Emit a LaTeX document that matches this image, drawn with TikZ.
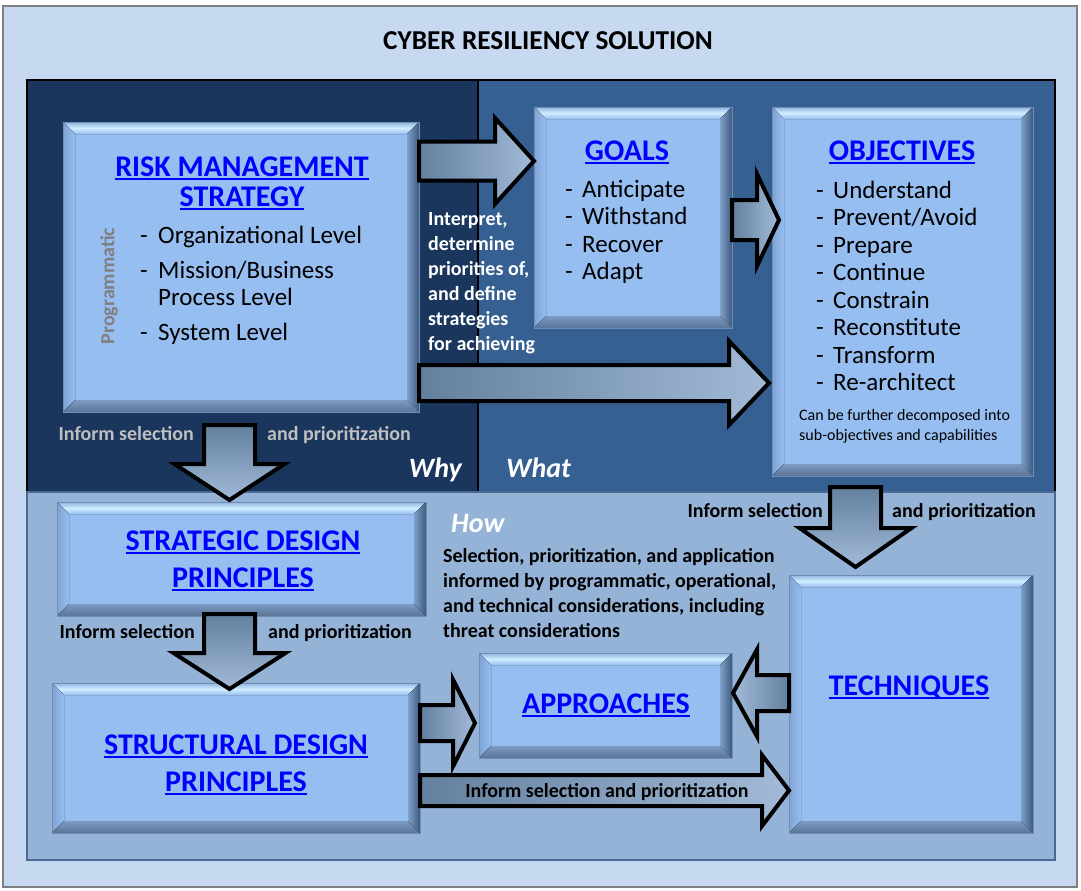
\documentclass[tikz,border=0pt]{standalone}
\usepackage{fontspec}
\setmainfont{Carlito}
\usetikzlibrary{calc}
\definecolor{outerbg}{HTML}{C6D9F1}
\definecolor{outerln}{HTML}{7F7F7F}
\definecolor{whybg}{HTML}{1A365D}
\definecolor{whatbg}{HTML}{366092}
\definecolor{howbg}{HTML}{95B3D7}
\definecolor{howln}{HTML}{4A6A94}
\definecolor{face}{HTML}{97BEF0}
\definecolor{bevTa}{HTML}{8FB3E0}
\definecolor{bevTm}{HTML}{D0EEFF}
\definecolor{bevLa}{HTML}{7FA3D3}
\definecolor{bevRa}{HTML}{7FA0CA}
\definecolor{bevRb}{HTML}{3D5A80}
\definecolor{bevBa}{HTML}{7D9BC3}
\definecolor{bevBb}{HTML}{5B7396}
\definecolor{bevedge}{HTML}{6F8DB5}
\definecolor{ardark}{HTML}{63809F}
\definecolor{arlight}{HTML}{A2BAD8}
\definecolor{ttlblue}{HTML}{0000FF}
\definecolor{lgray}{HTML}{BFBFBF}
\definecolor{pgray}{HTML}{7F7F7F}
\newcommand\fs[1]{\fontsize{#1}{#1}\selectfont}
\newsavebox\ttlbox
\newcommand\ttl[1]{\sbox\ttlbox{#1}\rlap{\rule[-4pt]{\wd\ttlbox}{2pt}}\usebox\ttlbox}
\tikzset{
  bx/.style={rectangle, fill=face, inner sep=0pt, outer sep=0pt, draw=none},
  ttlnode/.style={font=\bfseries\fs{30}, text=ttlblue, anchor=base, inner sep=0pt},
  item/.style={font=\fs{25}, anchor=base west, inner sep=0pt},
  small/.style={font=\bfseries\fs{20}, inner sep=0pt},
  note/.style={font=\fs{16}, anchor=base west, inner sep=0pt},
  side/.style={font=\bfseries\itshape\fs{28}, text=white, inner sep=0pt},
  barrow/.style={draw=black, line width=4pt, line join=miter},
  hshade/.style={left color=ardark, right color=arlight},
  vshade/.style={top color=ardark, bottom color=arlight},
}
\newcommand\bevel[1]{%
  \fill[top color=bevTa, bottom color=face, middle color=bevTm] (#1.north west) -- (#1.north east) -- ($(#1.north east)+(-12,12)$) -- ($(#1.north west)+(12,12)$) -- cycle;
  \fill[left color=bevLa, right color=face] (#1.north west) -- ($(#1.north west)+(12,12)$) -- ($(#1.south west)+(12,-12)$) -- (#1.south west) -- cycle;
  \fill[left color=bevRa, right color=bevRb] (#1.north east) -- ($(#1.north east)+(-12,12)$) -- ($(#1.south east)+(-12,-12)$) -- (#1.south east) -- cycle;
  \fill[top color=bevBa, bottom color=bevBb] (#1.south west) -- ($(#1.south west)+(12,-12)$) -- ($(#1.south east)+(-12,-12)$) -- (#1.south east) -- cycle;
  \draw[bevedge, line width=0.6pt] (#1.north west) rectangle (#1.south east);
}
% horizontal block arrow: start, tip, shaft half, head half, head length (negative = leftward)
\newcommand\harrow[6][]{\path[barrow,hshade,#1] let \p1=(#2),\p2=(#3) in
  (\x1,{\y1+#4pt}) -- ({\x2-(#6pt)},{\y1+#4pt}) -- ({\x2-(#6pt)},{\y1+#5pt}) -- (\x2,\y1) --
  ({\x2-(#6pt)},{\y1-#5pt}) -- ({\x2-(#6pt)},{\y1-#4pt}) -- (\x1,{\y1-#4pt}) -- cycle;}
% downward block arrow
\newcommand\varrow[6][]{\path[barrow,vshade,#1] let \p1=(#2),\p2=(#3) in
  ({\x1-#4pt},\y1) -- ({\x1-#4pt},{\y2+#6pt}) -- ({\x1-#5pt},{\y2+#6pt}) -- (\x1,\y2) --
  ({\x1+#5pt},{\y2+#6pt}) -- ({\x1+#4pt},{\y2+#6pt}) -- ({\x1+#4pt},\y1) -- cycle;}
\begin{document}
\begin{tikzpicture}[x=1pt,y=-1pt]
\useasboundingbox (0,0) rectangle (1081,891);
\fill[white] (0,0) rectangle (1081,891);
% panels
\draw[fill=outerbg, draw=outerln, line width=1.5pt] (3,6) rectangle (1077,887);
\draw[fill=whybg, draw=black, line width=1.5pt] (27,80) rectangle (478,492);
\draw[fill=whatbg, draw=black, line width=1.5pt] (478,80) rectangle (1055,492);
\draw[fill=howbg, draw=howln, line width=1.5pt] (27,492) rectangle (1055,860);
\node[font=\bfseries\fs{27.3}, anchor=base, inner sep=0pt] (title) at (548,50) {CYBER RESILIENCY SOLUTION};
% boxes
\node[bx, minimum width=356pt, minimum height=290pt] (rms) at (241,267) {};
\node[bx, minimum width=198pt, minimum height=221pt] (goals) at (633,217.5) {};
\node[bx, minimum width=261pt, minimum height=369pt] (obj) at (902.5,291.5) {};
\node[bx, minimum width=369pt, minimum height=114pt] (strat) at (241.5,559) {};
\node[bx, minimum width=368pt, minimum height=150pt] (struct) at (236,758) {};
\node[bx, minimum width=253pt, minimum height=105pt] (appr) at (605.5,705.5) {};
\node[bx, minimum width=244pt, minimum height=258pt] (tech) at (911,704) {};
\bevel{rms}\bevel{goals}\bevel{obj}\bevel{strat}\bevel{struct}\bevel{appr}\bevel{tech}
% RMS text
\node[ttlnode] (rmst1) at (242,176) {\ttl{RISK MANAGEMENT}};
\node[ttlnode] (rmst2) at (242,206) {\ttl{STRATEGY}};
\node[font=\bfseries\fs{20}, text=pgray, rotate=90, inner sep=0pt] (prog) at (109,286) {Programmatic};
\node[item] (rd1) at (140,243) {-};
\node[item] (ri1) at (158,243) {Organizational Level};
\node[item] (rd2) at (140,278) {-};
\node[item] (ri2) at (158,278) {Mission/Business};
\node[item] (ri2b) at (158,305) {Process Level};
\node[item] (rd3) at (140,340) {-};
\node[item] (ri3) at (158,340) {System Level};
% GOALS text
\node[ttlnode] (gt) at (627,160) {\ttl{GOALS}};
\node[item] (gd1) at (565,197) {-};
\node[item] (gi1) at (582,197) {Anticipate};
\node[item] (gd2) at (565,224) {-};
\node[item] (gi2) at (582,224) {Withstand};
\node[item] (gd3) at (565,252) {-};
\node[item] (gi3) at (582,252) {Recover};
\node[item] (gd4) at (565,279) {-};
\node[item] (gi4) at (582,279) {Adapt};
% OBJECTIVES text
\node[ttlnode] (ot) at (902,160) {\ttl{OBJECTIVES}};
\node[item] (od1) at (816,198) {-};
\node[item] (oi1) at (833,198) {Understand};
\node[item] (od2) at (816,225) {-};
\node[item] (oi2) at (833,225) {Prevent/Avoid};
\node[item] (od3) at (816,253) {-};
\node[item] (oi3) at (833,253) {Prepare};
\node[item] (od4) at (816,280) {-};
\node[item] (oi4) at (833,280) {Continue};
\node[item] (od5) at (816,308) {-};
\node[item] (oi5) at (833,308) {Constrain};
\node[item] (od6) at (816,335) {-};
\node[item] (oi6) at (833,335) {Reconstitute};
\node[item] (od7) at (816,363) {-};
\node[item] (oi7) at (833,363) {Transform};
\node[item] (od8) at (816,390) {-};
\node[item] (oi8) at (833,390) {Re-architect};
\node[note] (on1) at (799,420) {Can be further decomposed into};
\node[note] (on2) at (799,440) {sub-objectives and capabilities};
% lower box titles
\node[ttlnode] (st1) at (243,550) {\ttl{STRATEGIC DESIGN}};
\node[ttlnode] (st2) at (243,587) {\ttl{PRINCIPLES}};
\node[ttlnode] (su1) at (236,754) {\ttl{STRUCTURAL DESIGN}};
\node[ttlnode] (su2) at (236,791) {\ttl{PRINCIPLES}};
\node[ttlnode] (at) at (606,713) {\ttl{APPROACHES}};
\node[ttlnode] (tt) at (909,695) {\ttl{TECHNIQUES}};
% side texts
\node[small, text=white, anchor=base west] (ip1) at (428,225) {Interpret,};
\node[small, text=white, anchor=base west] (ip2) at (428,250) {determine};
\node[small, text=white, anchor=base west] (ip3) at (428,275) {priorities of,};
\node[small, text=white, anchor=base west] (ip4) at (428,300) {and define};
\node[small, text=white, anchor=base west] (ip5) at (428,325) {strategies};
\node[small, text=white, anchor=base west] (ip6) at (428,350) {for achieving};
\node[small, anchor=base west] (sl1) at (443,562) {Selection, prioritization, and application};
\node[small, anchor=base west] (sl2) at (443,587) {informed by programmatic, operational,};
\node[small, anchor=base west] (sl3) at (443,612) {and technical considerations, including};
\node[small, anchor=base west] (sl4) at (443,637) {threat considerations};
\node[side, anchor=base east] (why) at (462,477) {Why};
\node[side, anchor=base west] (what) at (506,477) {What};
\node[side, anchor=base west] (how) at (451,532) {How};
\node[small, text=lgray, anchor=base east] (if1) at (194,440) {Inform selection};
\node[small, text=lgray, anchor=base west] (ap1) at (267,440) {and prioritization};
\node[small, anchor=base east] (if2) at (195,638) {Inform selection};
\node[small, anchor=base west] (ap2) at (268,638) {and prioritization};
\node[small, anchor=base east] (if3) at (823,517) {Inform selection};
\node[small, anchor=base west] (ap3) at (892,517) {and prioritization};
% block arrows
\harrow{rms.east |- 0,161}{goals.west |- 0,161}{19.5}{43}{39}
\harrow{goals.east |- 0,220}{$(obj.west |- 0,220)+(7,0)$}{20}{46}{22}
\harrow{rms.east |- 0,383}{$(obj.west |- 0,383)+(-3,0)$}{18}{42}{40}
\varrow{$(rms.south)+(-11.5,13)$}{$(strat.north)+(-11.5,-2)$}{25.5}{55}{36}
\varrow{$(strat.south)+(-12,-2)$}{$(struct.north)+(-6.5,6)$}{25.5}{56}{36}
\varrow{$(obj.south)+(-47,11)$}{$(tech.north)+(-55.5,-8)$}{25.5}{56}{39}
\harrow[left color=arlight, right color=ardark]{tech.west |- 0,693}{$(appr.east |- 0,693)+(1,0)$}{18}{43.5}{-24}
\harrow{struct.east |- 0,723}{$(appr.west |- 0,723)+(-4,0)$}{18}{43.5}{22}
\harrow{struct.east |- 0,790.5}{tech.west |- 0,790.5}{15.5}{35.5}{27}
\node[small, anchor=base] (arlab) at (607,797) {Inform selection and prioritization};
\end{tikzpicture}
\end{document}
